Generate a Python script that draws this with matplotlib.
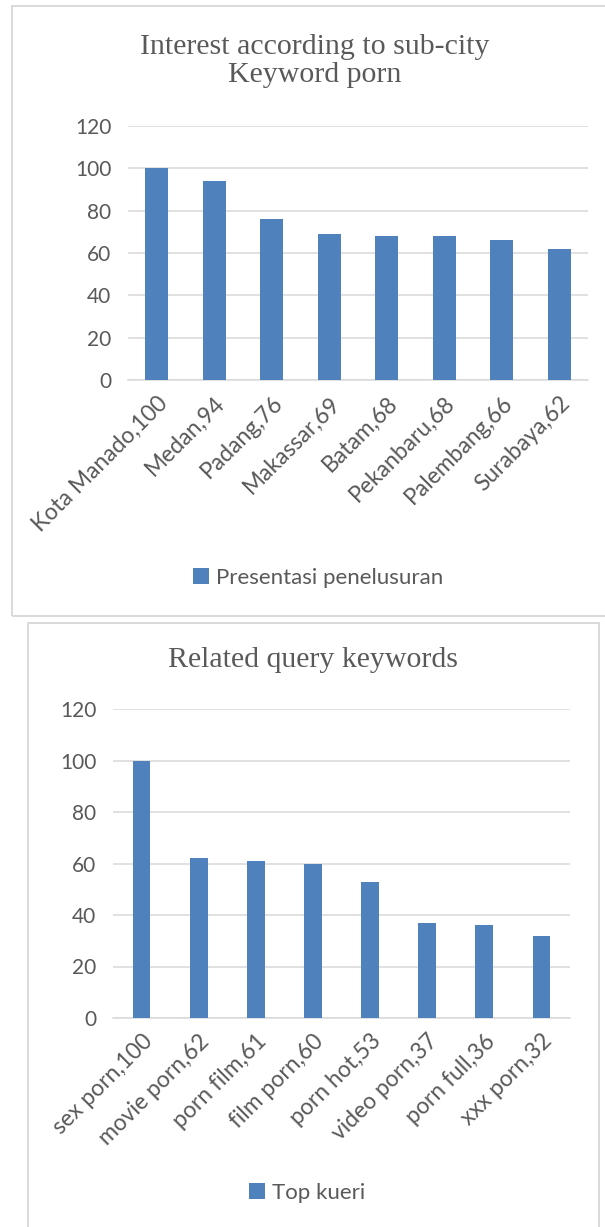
"""
Two Excel-style bar charts: interest per city and related query keywords
"""
import matplotlib
matplotlib.use('Agg')
import matplotlib.pyplot as plt
from matplotlib.patches import Rectangle

# Data
cities = ['Kota Manado', 'Medan', 'Padang', 'Makassar', 'Batam',
          'Pekanbaru', 'Palembang', 'Surabaya']
city_values = [100, 94, 76, 69, 68, 68, 66, 62]

queries = ['sex porn', 'movie porn', 'porn film', 'film porn', 'porn hot',
           'video porn', 'porn full', 'xxx porn']
query_values = [100, 62, 61, 60, 53, 37, 36, 32]

y_ticks = [0, 20, 40, 60, 80, 100, 120]

BAR = '#4F81BD'
GRID = '#D9D9D9'
TEXT = '#595959'
W, H = 605, 1227

fig = plt.figure(figsize=(W / 100, H / 100), dpi=100)


def px_rect(x0, y0, x1, y1):
    # pixel box (top-left origin) -> figure fraction [l, b, w, h]
    return [x0 / W, 1 - y1 / H, (x1 - x0) / W, (y1 - y0) / H]


def frame(x0, y0, x1, y1):
    l, b, w, h = px_rect(x0, y0, x1, y1)
    fig.patches.append(Rectangle((l, b), w, h, transform=fig.transFigure,
                                 fill=False, edgecolor=GRID, linewidth=1.4))


def bar_chart(rect, labels, values, width, legend_label, legend_xy):
    ax = fig.add_axes(px_rect(*rect))
    names = [f'{n},{v}' for n, v in zip(labels, values)]
    x = list(range(len(values)))
    ax.bar(x, values, width=width, color=BAR, label=legend_label, zorder=3)
    ax.set_xlim(-0.5, len(values) - 0.5)
    ax.set_ylim(0, 120)
    ax.set_yticks(y_ticks)
    ax.yaxis.grid(True, color=GRID, linewidth=1.1, zorder=0)
    for s in ['top', 'right', 'left']:
        ax.spines[s].set_visible(False)
    ax.spines['bottom'].set_color(GRID)
    ax.spines['bottom'].set_linewidth(1.1)
    ax.tick_params(length=0, labelsize=15, labelcolor=TEXT)
    ax.tick_params(axis='y', pad=12)
    ax.set_xticks(x)
    ax.set_xticklabels(names, rotation=45, ha='right', va='top',
                       rotation_mode='anchor', fontsize=16.5)
    ax.tick_params(axis='x', pad=9)
    leg = ax.legend(loc='center', bbox_to_anchor=(legend_xy[0] / W, 1 - legend_xy[1] / H),
                    bbox_transform=fig.transFigure, frameon=False, fontsize=16,
                    handlelength=0.75, handleheight=0.75, handletextpad=0.3)
    for t in leg.get_texts():
        t.set_color(TEXT)
    return ax


plt.rcParams['font.family'] = ['Lato', 'DejaVu Sans']

# === Chart 1 ===
frame(12, 6, 640, 616)
bar_chart((128, 126, 588, 380), cities, city_values, 0.4,
          'Presentasi penelusuran', (318, 578))
fig.text(315 / W, 1 - 61 / H, 'Interest according to sub-city\nKeyword porn',
         ha='center', va='center', fontsize=21.5, color=TEXT,
         family='Liberation Serif', linespacing=1.12)

# === Chart 2 ===
frame(27.5, 623, 599, 1260)
bar_chart((113, 709, 570, 1018), queries, query_values, 0.31,
          'Top kueri', (307, 1193))
fig.text(313 / W, 1 - 660 / H, 'Related query keywords',
         ha='center', va='center', fontsize=21.5, color=TEXT,
         family='Liberation Serif')

fig.savefig('out.png', dpi=100)
plt.close(fig)
